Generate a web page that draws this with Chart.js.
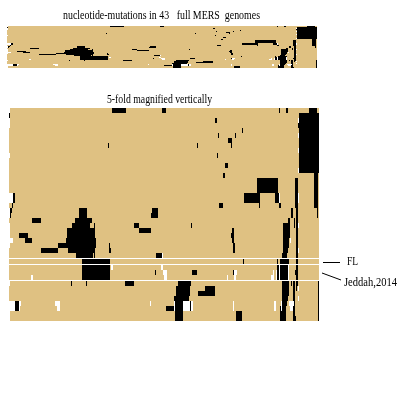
<!DOCTYPE html>
<html>
<head>
<meta charset="utf-8">
<script src="https://cdn.jsdelivr.net/npm/chart.js@4"></script>
<style>
  html, body { margin: 0; padding: 0; background: #fff; }
  canvas { position: absolute; left: 0; }
  #overview { top: 0; }
  #magnified { top: 90px; }
</style>
</head>
<body>
<canvas id="overview" width="400" height="90"></canvas>
<canvas id="magnified" width="400" height="310"></canvas>
<script>
const overviewTitle = 'nucleotide-mutations in 43   full MERS  genomes';
const magnifiedTitle = '5-fold magnified vertically';
const genomeCount = 42;
const siteRange = [9, 319];
// rows that have a white separator line above them in the magnified part
const separatedRows = [30, 31, 34];

// mutated stretches per genome row, [first site, last site]
const mutatedByRow = [
  [[112,126],[162,166],[279,280],[286,288],[309,317]],
  [[9,10],[299,319]],
  [[215,217],[299,319]],
  [[298,319]],
  [[242,243],[299,319]],
  [[218,219],[235,236],[299,319]],
  [[228,232],[299,319]],
  [[108,109],[197,198],[231,232],[299,319]],
  [[299,319]],
  [[217,218],[299,319]],
  [[299,319]],
  [[225,228],[299,319]],
  [[299,319]],
  [[223,225],[314,318]],
  [[257,278],[295,298],[314,318]],
  [[257,278],[295,298],[314,318]],
  [[257,278],[295,298],[314,318]],
  [[13,15],[244,260],[275,279],[295,298],[314,318]],
  [[13,15],[244,260],[275,279],[295,298],[314,318]],
  [[12,13],[219,223],[259,260],[279,281],[295,298],[314,318]],
  [[10,12],[79,87],[152,158],[291,293],[296,298],[317,318]],
  [[10,11],[79,87],[151,158],[291,293],[296,298],[317,318]],
  [[32,41],[75,92],[288,290],[294,295],[296,298]],
  [[72,90],[94,95],[134,139],[191,192],[283,290],[294,295],[296,298]],
  [[67,95],[139,151],[232,234],[283,290],[296,298]],
  [[19,28],[67,95],[231,234],[283,290],[296,298]],
  [[25,32],[66,96],[232,234],[283,289],[296,298]],
  [[58,96],[109,110],[233,235],[283,289],[296,298]],
  [[41,58],[68,95],[109,111],[233,235],[283,288],[296,298]],
  [[76,93],[94,95],[156,162],[282,287],[296,298]],
  [[82,110],[243,244],[277,278],[280,289],[296,298]],
  [[82,110],[277,279],[280,288],[296,298]],
  [[82,110],[155,156],[192,197],[233,234],[277,279],[280,288],[295,298]],
  [[82,110],[277,279],[280,288],[296,298]],
  [[71,72],[86,87],[125,134],[178,191],[282,289],[291,292],[293,295],[296,298],[318,319]],
  [[176,190],[205,215],[282,289],[293,295],[296,297],[318,319]],
  [[176,190],[198,215],[282,289],[293,295],[318,319]],
  [[174,189],[282,288],[293,295],[318,319]],
  [[15,19],[175,183],[190,191],[282,287],[294,295],[318,319]],
  [[15,19],[166,174],[175,183],[190,191],[280,281],[282,286],[293,295],[318,319]],
  [[175,183],[236,242],[280,286],[293,295],[318,319]],
  [[175,183],[236,242],[280,286],[293,296],[318,319]]
];

// stretches with no data (white), same layout
const missingByRow = [
  [[9,10]], [], [[9,10],[298,299]], [[9,10]], [], [[298,299]], [], [], [[298,299]], [[9,10]],
  [], [], [[298,299]], [], [], [], [], [[9,13],[279,280],[298,299]], [[9,13],[279,280],[298,299]], [],
  [[9,10]], [[9,10]], [], [[9,10],[298,299]], [[9,10]], [[9,10]], [[9,13],[290,291]], [[9,10]], [[298,299]], [[162,163]],
  [],
  [[94,95],[107,108],[111,113],[161,163],[279,280],[288,289]],
  [[107,108],[163,167],[234,237],[273,274],[276,277],[279,280],[288,289]],
  [[31,33],[107,108],[164,167],[227,228],[234,236],[271,274],[276,277],[279,280],[282,283],[288,289]],
  [[9,10]], [[298,299]], [], [[298,299]],
  [[9,15],[19,21],[55,60],[150,151],[174,175],[183,190],[191,193],[233,234],[274,276],[281,282],[289,294]],
  [[9,15],[19,20],[57,60],[174,175],[183,190],[191,193],[233,234],[274,276],[281,282],[290,293]],
  [[9,10]], [[9,10]]
];

const tan = '#dfc182';

function rowCentre(row, gap) {
  const linesAbove = separatedRows.filter((r) => r <= row).length;
  return row + 0.5 + linesAbove * gap;
}

function spansToPoints(byRow, gap) {
  const points = [];
  byRow.forEach((spans, row) => {
    spans.forEach((span) => points.push({ x: span, y: rowCentre(row, gap) }));
  });
  return points;
}

function drawPanel(id, rowHeight, gap, padding, texts) {
  const wholeRows = mutatedByRow.map(() => [siteRange]);
  // inflateAmount 0, otherwise the bars bleed over the 1px white lines
  const common = { barThickness: rowHeight, grouped: false, borderWidth: 0, inflateAmount: 0 };

  return new Chart(document.getElementById(id), {
    type: 'bar',
    data: {
      datasets: [
        { ...common, label: 'mutated', data: spansToPoints(mutatedByRow, gap), backgroundColor: '#000', order: 1 },
        { ...common, label: 'missing', data: spansToPoints(missingByRow, gap), backgroundColor: '#fff', order: 2 },
        { ...common, label: 'genome', data: spansToPoints(wholeRows, gap), backgroundColor: tan, order: 3 },
      ],
    },
    options: {
      indexAxis: 'y',
      responsive: false,
      devicePixelRatio: 1,
      animation: false,
      layout: { padding },
      plugins: { legend: { display: false }, tooltip: { enabled: false } },
      scales: {
        x: { type: 'linear', display: false, min: siteRange[0], max: siteRange[1] },
        y: {
          type: 'linear',
          display: false,
          offset: false,
          reverse: true,
          min: 0,
          max: genomeCount + separatedRows.length * gap,
        },
      },
    },
    plugins: [{
      id: 'labels',
      afterDraw(chart) {
        const ctx = chart.ctx;
        ctx.save();
        ctx.fillStyle = '#000';
        ctx.strokeStyle = '#000';
        ctx.textBaseline = 'alphabetic';
        ctx.font = '13px "Liberation Serif"';
        texts.forEach((t) => {
          if (t.text) {
            ctx.fillText(t.text, t.x, t.y, t.width);
          } else {
            ctx.beginPath();
            ctx.moveTo(t.x, t.y);
            ctx.lineTo(t.x2, t.y2);
            ctx.stroke();
          }
        });
        ctx.restore();
      },
    }],
  });
}

drawPanel('overview', 1, 0, { left: 7, right: 83, top: 26, bottom: 22 }, [
  { text: overviewTitle, x: 63, y: 19, width: 197 },
]);

// y positions below are relative to the second canvas, which starts at 90px
drawPanel('magnified', 5, 0.2, { left: 9, right: 81, top: 18, bottom: 79 }, [
  { text: magnifiedTitle, x: 107, y: 13, width: 105 },
  { text: 'FL', x: 347, y: 175, width: 11 },
  { text: 'Jeddah,2014', x: 344, y: 196, width: 53 },
  { x: 323, y: 172.5, x2: 340, y2: 172.5 },
  { x: 322, y: 183, x2: 341, y2: 190 },
]);
</script>
</body>
</html>
